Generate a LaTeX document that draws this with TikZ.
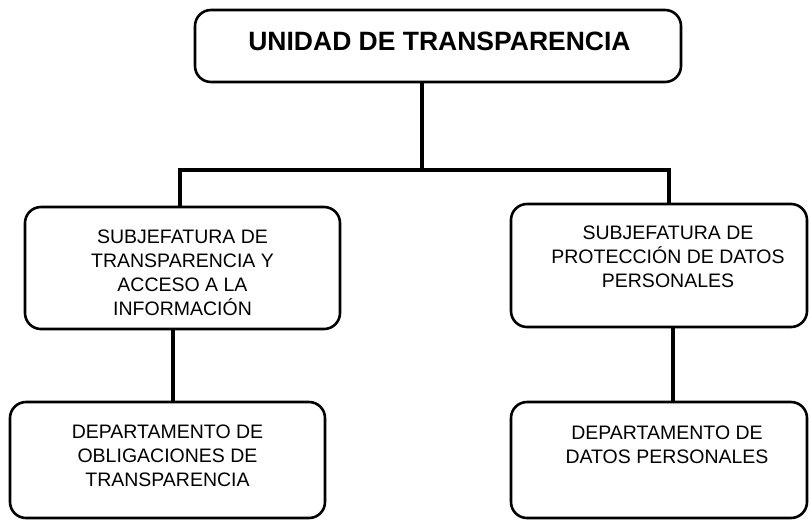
\documentclass[tikz,border=0pt]{standalone}
\usepackage{fontspec}
\setmainfont{Liberation Sans}
\begin{document}
\begin{tikzpicture}[x=1pt,y=-1pt,
  box/.style={draw=black, line width=2.6pt, rounded corners=16pt, inner sep=0pt},
  txt/.style={align=center, inner sep=0pt, font=\fontsize{19.5}{24}\selectfont},
  ttl/.style={inner sep=0pt, font=\fontsize{26.5}{30}\selectfont\bfseries},
  conn/.style={draw=black, line width=4pt}]
\clip (0,0) rectangle (810,520);
\fill[white] (0,0) rectangle (810,520);
% boxes
\node[box, minimum width=486pt, minimum height=72pt] (top) at (438,46) {};
\node[box, minimum width=315pt, minimum height=122pt] (sub1) at (182.5,268) {};
\node[box, minimum width=296pt, minimum height=123pt] (sub2) at (659,265.5) {};
\node[box, minimum width=315pt, minimum height=116pt] (dep1) at (167.5,460) {};
\node[box, minimum width=296pt, minimum height=116pt] (dep2) at (659,460) {};
% texts
\node[ttl] (toptxt) at (439.5,41) {UNIDAD DE TRANSPARENCIA};
\node[txt] (sub1txt) at (182.5,273) {SUBJEFATURA DE\\TRANSPARENCIA Y\\ACCESO A LA\\INFORMACIÓN};
\node[txt] (sub2txt) at (668,256.5) {SUBJEFATURA DE\\PROTECCIÓN DE DATOS\\PERSONALES};
\node[txt] (dep1txt) at (167.5,455.5) {DEPARTAMENTO DE\\OBLIGACIONES DE\\TRANSPARENCIA};
\node[txt] (dep2txt) at (667,444.5) {DEPARTAMENTO DE\\DATOS PERSONALES};
% junction coordinates
\coordinate (jc) at (422,170);
\coordinate (jl) at (180,170);
\coordinate (jr) at (669,170);
\coordinate (xl) at (173,0);
\coordinate (xr) at (673,0);
% connectors
\draw[conn] (top.south -| jc) -- (jc);
\draw[conn, line cap=rect] (sub1.north -| jl) -- (jl) -- (jr) -- (sub2.north -| jr);
\draw[conn] (sub1.south -| xl) -- (dep1.north -| xl);
\draw[conn] (sub2.south -| xr) -- (dep2.north -| xr);
\end{tikzpicture}
\end{document}
